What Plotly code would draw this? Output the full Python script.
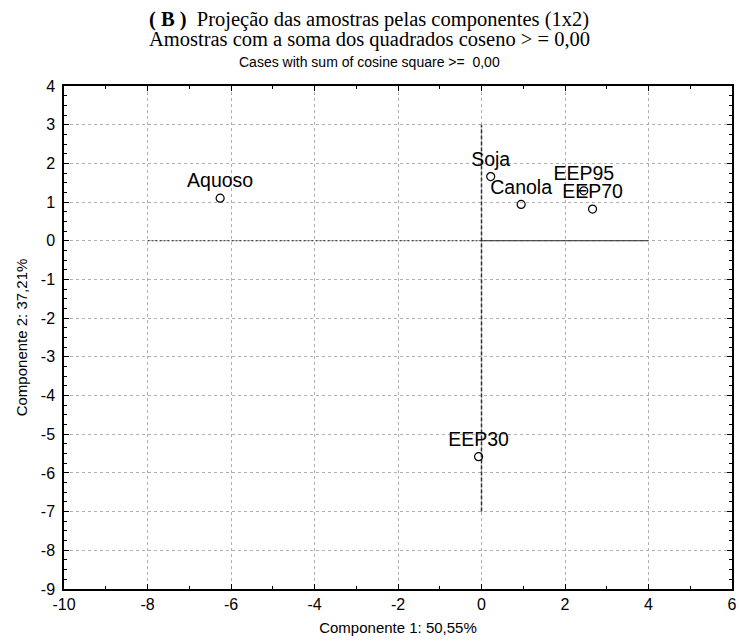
import plotly.graph_objects as go

# ---- data ----
samples = ["Aquoso", "Soja", "Canola", "EEP95", "EEP70", "EEP30"]
comp1 = [-6.26, 0.22, 0.95, 2.45, 2.66, -0.07]
comp2 = [1.10, 1.66, 0.94, 1.29, 0.82, -5.58]

x_ticks = [-10, -8, -6, -4, -2, 0, 2, 4, 6]
y_ticks = [4, 3, 2, 1, 0, -1, -2, -3, -4, -5, -6, -7, -8, -9]

# reference axes lines (origin cross)
h_left_x = [-8, 0]
h_right_x = [0, 4]
h_y = [0, 0]
v_x = [0, 0]
v_y = [-7, 3]

title1 = "<b>( B )</b>  Projeção das amostras pelas componentes (1x2)"
title2 = "Amostras com a soma dos quadrados coseno > = 0,00"
title3 = "Cases with sum of cosine square >=  0,00"
xlabel = "Componente 1: 50,55%"
ylabel = "Componente 2: 37,21%"

fig = go.Figure()

fig.add_trace(go.Scatter(x=h_left_x, y=h_y, mode="lines",
                         line=dict(color="#222", width=1.2, dash="2px,2px"),
                         hoverinfo="skip", showlegend=False))
fig.add_trace(go.Scatter(x=h_right_x, y=h_y, mode="lines",
                         line=dict(color="#222", width=1.2),
                         hoverinfo="skip", showlegend=False))
fig.add_trace(go.Scatter(x=v_x, y=v_y, mode="lines",
                         line=dict(color="#333", width=1.5, dash="4px,2px"),
                         hoverinfo="skip", showlegend=False))

fig.add_trace(go.Scatter(
    x=comp1, y=comp2, mode="markers+text", text=samples,
    textposition="top center",
    textfont=dict(family="Liberation Sans, Arial", size=19.5, color="black"),
    marker=dict(symbol="circle-open", size=8, color="black", line=dict(width=1.2)),
    showlegend=False,
))

axis_common = dict(
    automargin=False,
    showline=True, linecolor="black", linewidth=1.5, mirror="allticks",
    ticks="inside", ticklen=5, tickcolor="black", tickwidth=1,
    showgrid=True, gridcolor="#b0b0b0", griddash="dot", gridwidth=1,
    zeroline=False,
    tickfont=dict(family="Liberation Sans, Arial", size=16, color="black"),
    title_font=dict(family="Liberation Sans, Arial", size=15, color="black"),
)

fig.update_xaxes(range=[-10, 6], tickvals=x_ticks, ticktext=[str(v) for v in x_ticks],
                 minor=dict(dtick=1, ticks="inside", ticklen=3, tickcolor="black", showgrid=False),
                 title_text=xlabel, title_standoff=11, **axis_common)
fig.update_yaxes(range=[-9, 4], tickvals=y_ticks, ticktext=[str(v) for v in y_ticks],
                 minor=dict(dtick=0.25, ticks="inside", ticklen=3, tickcolor="black", showgrid=False),
                 title_text=ylabel, title_standoff=10, ticklabelstandoff=4, **axis_common)

for txt, yp, fam, sz in [(title1, 1.133, "Liberation Serif, Times New Roman", 20.5),
                         (title2, 1.0915, "Liberation Serif, Times New Roman", 20.5),
                         (title3, 1.0477, "Liberation Sans, Arial", 14)]:
    fig.add_annotation(text=txt, xref="paper", yref="paper", x=0.457, y=yp,
                       xanchor="center", yanchor="middle", showarrow=False,
                       font=dict(family=fam, size=sz, color="black"))

fig.update_layout(
    width=739, height=644,
    margin=dict(l=64, r=7, t=86, b=55),
    plot_bgcolor="white", paper_bgcolor="white",
)

# remove the browser's default 8px body margin so the figure fills the window exactly
fig.write_html("out.html", config={"displayModeBar": False},
               post_script="document.body.style.margin='0px';document.body.style.overflow='hidden';")
